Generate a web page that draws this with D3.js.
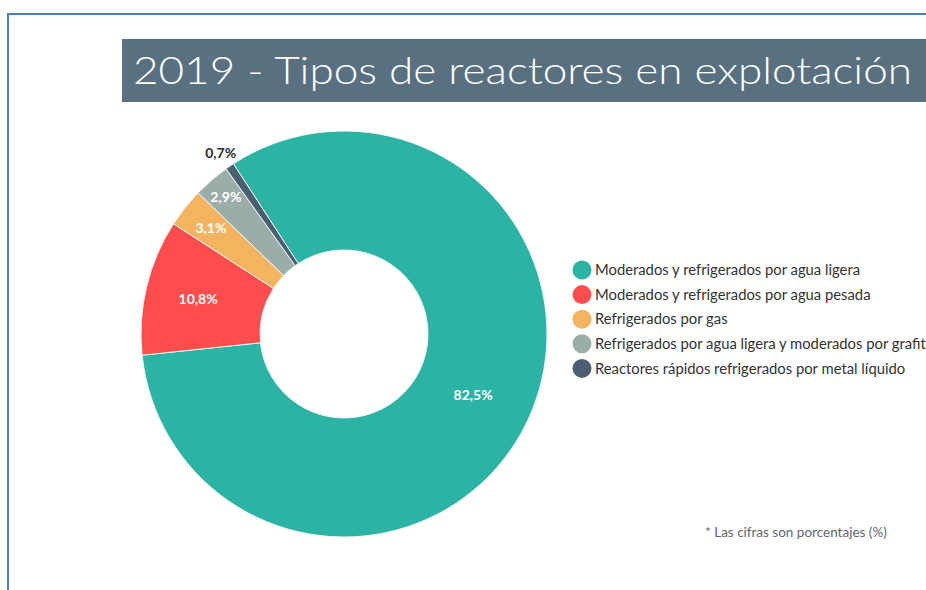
<!DOCTYPE html>
<html>
<head>
<meta charset="utf-8">
<script src="https://cdn.jsdelivr.net/npm/d3@7"></script>
<style>
  html, body { margin: 0; padding: 0; background: #fff; overflow: hidden; }
  svg { display: block; }
</style>
</head>
<body>
<svg id="chart" width="926" height="590"></svg>
<script>
// data
const categories = [
  "Moderados y refrigerados por agua ligera",
  "Moderados y refrigerados por agua pesada",
  "Refrigerados por gas",
  "Refrigerados por agua ligera y moderados por grafito",
  "Reactores rápidos refrigerados por metal líquido"
];
const values = [82.5, 10.8, 3.1, 2.9, 0.7];
const colors = ["#2bb3a3", "#ff4d4d", "#f4b35e", "#9aada9", "#4a6072"];
const title = "2019 - Tipos de reactores en explotación";
const footnote = "* Las cifras son porcentajes (%)";

// layout
const cx = 344, cy = 334, outerR = 203, innerR = 84;
const labelR = [143, 150, 170, 181, 219];

const svg = d3.select("#chart");

// blue frame (runs off the right and bottom edges)
svg.append("path")
    .attr("d", "M8,590 L8,14 L926,14")
    .attr("fill", "none")
    .attr("stroke", "#4a7ec4")
    .attr("stroke-width", 2);

// title bar
svg.append("rect")
    .attr("x", 122).attr("y", 39)
    .attr("width", 804).attr("height", 63)
    .attr("fill", "#587080");

svg.append("text")
    .attr("x", 133).attr("y", 84)
    .attr("font-family", "Lato, 'Open Sans', sans-serif")
    .attr("font-weight", 300)
    .attr("font-size", 37)
    .attr("fill", "#fff")
    .attr("textLength", 779)
    .attr("lengthAdjust", "spacingAndGlyphs")
    .text(title);

// donut
const pie = d3.pie()
    .sort(null)
    .startAngle(-33 * Math.PI / 180)
    .endAngle(327 * Math.PI / 180);

const arcs = pie(values);
const arc = d3.arc().innerRadius(innerR).outerRadius(outerR);

const g = svg.append("g").attr("transform", "translate(" + cx + "," + cy + ")");

g.selectAll("path.slice")
    .data(arcs)
    .enter().append("path")
    .attr("class", "slice")
    .attr("d", arc)
    .attr("fill", (d, i) => colors[i])
    .attr("stroke", "#f4f4f4")
    .attr("stroke-width", 1);

g.selectAll("text.lbl")
    .data(arcs)
    .enter().append("text")
    .attr("class", "lbl")
    .attr("transform", (d, i) => {
        const a = (d.startAngle + d.endAngle) / 2;
        return "translate(" + (labelR[i] * Math.sin(a)) + "," + (-labelR[i] * Math.cos(a)) + ")";
    })
    .attr("text-anchor", "middle")
    .attr("dy", "0.35em")
    .attr("font-family", "Lato, 'Open Sans', sans-serif")
    .attr("font-weight", 700)
    .attr("font-size", 14)
    .attr("fill", (d, i) => i === values.length - 1 ? "#2b2b2b" : "#fff")
    .text(d => d3.format(".1f")(d.data).replace(".", ",") + "%");

// legend
const legend = svg.append("g").attr("transform", "translate(582,270)");
const row = legend.selectAll("g")
    .data(categories)
    .enter().append("g")
    .attr("transform", (d, i) => "translate(0," + (i * 24.6) + ")");

row.append("circle")
    .attr("r", 9.5)
    .attr("fill", (d, i) => colors[i]);

row.append("text")
    .attr("x", 13)
    .attr("dy", "0.35em")
    .attr("font-family", "Lato, 'Open Sans', sans-serif")
    .attr("font-size", 14.8)
    .attr("fill", "#333")
    .text(d => d);

// footnote
svg.append("text")
    .attr("x", 705).attr("y", 537)
    .attr("font-family", "Lato, 'Open Sans', sans-serif")
    .attr("font-size", 13.5)
    .attr("fill", "#666")
    .text(footnote);
</script>
</body>
</html>
